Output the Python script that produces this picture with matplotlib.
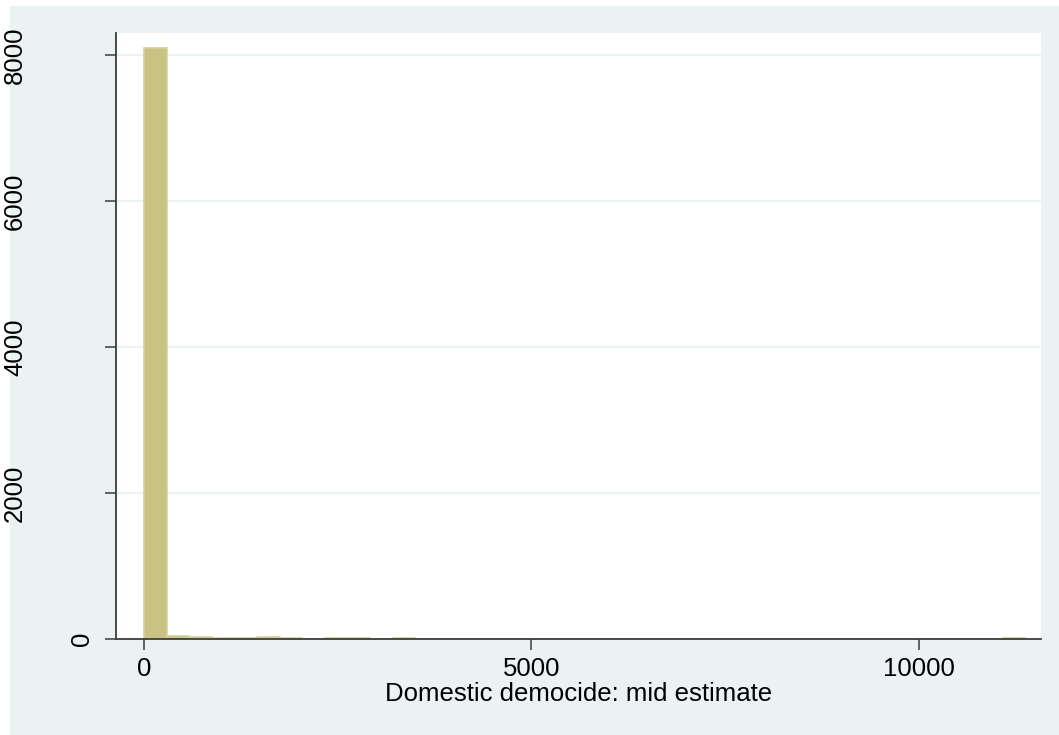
import matplotlib
matplotlib.use("Agg")
import matplotlib.pyplot as plt
from matplotlib.patches import Rectangle
from matplotlib.transforms import blended_transform_factory
import numpy as np

# histogram of domestic democide (mid estimate), 39 bins
bin_start = 0
bin_width = 291.6
counts = [8096, 45, 32, 12, 12, 26, 12, 0, 8, 8, 0, 8,
          0, 0, 0, 0, 0, 0, 0, 0, 0, 0, 0, 0, 0, 0, 0,
          0, 0, 0, 0, 0, 0, 0, 0, 0, 0, 0, 8]
x_ticks = [0, 5000, 10000]
y_ticks = [0, 2000, 4000, 6000, 8000]
x_title = "Domestic democide: mid estimate"

bg_color = '#eaf2f3'
bar_color = '#c9c283'
bar_edge = '#d6d19c'
axis_color = '#3c3c3c'
FS = 18.5

W, H = 1059, 735
plt.rcParams['font.family'] = ['Liberation Sans', 'DejaVu Sans']

fig = plt.figure(figsize=(W / 100, H / 100), dpi=100)
fig.patch.set_facecolor('white')
# outer graph region
outer = Rectangle((10 / W, 0), 1 - 10 / W, 1 - 6 / H,
                  transform=fig.transFigure, fc=bg_color, ec='none', zorder=-5)
fig.add_artist(outer)

ax = fig.add_axes([116 / W, (H - 639) / H, (1041 - 116) / W, (639 - 33) / H])
ax.set_facecolor('white')

edges = bin_start + bin_width * np.arange(len(counts))
ax.bar(edges, counts, width=bin_width, align='edge', color=bar_color,
       edgecolor=bar_edge, linewidth=1.2, zorder=2)

ax.set_xlim(-361, 11574)
ax.set_ylim(0, 8301)

for yv in y_ticks[1:]:
    ax.axhline(yv, color=bg_color, lw=1.6, zorder=1)

for side in ['top', 'right']:
    ax.spines[side].set_visible(False)
for side in ['left', 'bottom']:
    ax.spines[side].set_color(axis_color)
    ax.spines[side].set_linewidth(1.3)
    ax.spines[side].set_zorder(3)

ax.set_xticks(x_ticks)
ax.set_xticklabels([str(v) for v in x_ticks])
ax.set_yticks(y_ticks)
ax.set_yticklabels([])
ax.tick_params(axis='both', length=8, width=1.1, color=axis_color,
               labelsize=FS, labelcolor='black')
ax.tick_params(axis='x', pad=5)

# stata-style vertical y labels (short labels sit closer to the axis)
ytrans = blended_transform_factory(fig.transFigure, ax.transData)
for yv in y_ticks:
    lab = str(yv)
    right_px = 94 if len(lab) == 1 else 27
    ax.text(right_px / W, yv, lab, transform=ytrans, rotation=90,
            ha='right', va='center', fontsize=FS, color='black')

ax.set_xlabel(x_title, fontsize=FS, labelpad=0.5)

fig.savefig('out.png', dpi=100, facecolor=fig.get_facecolor())
